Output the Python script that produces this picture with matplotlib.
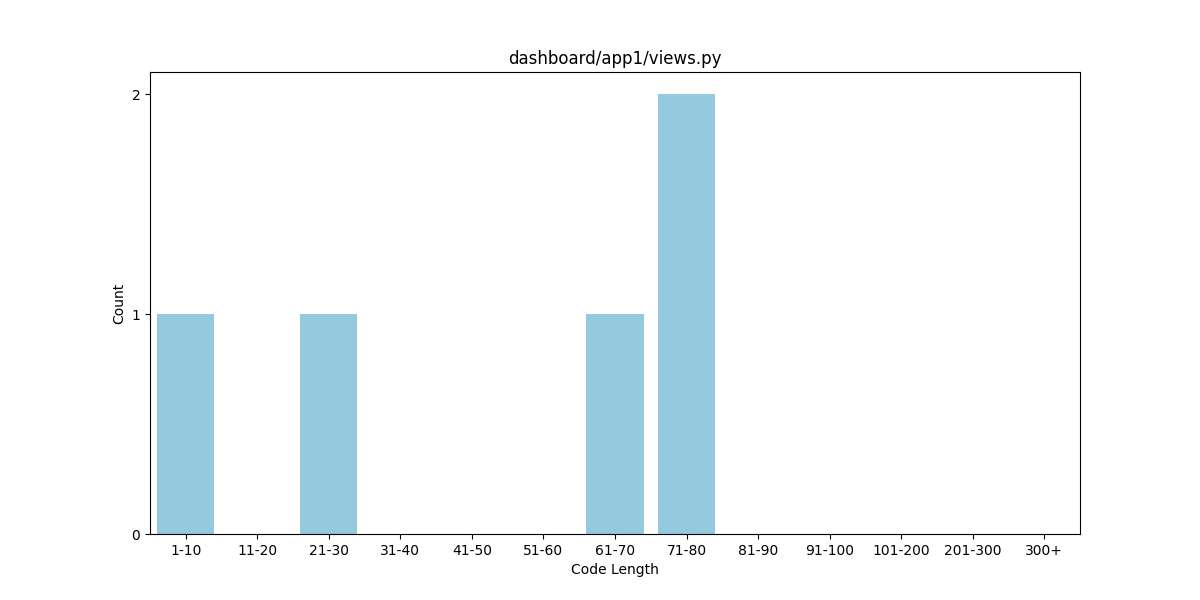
import matplotlib
matplotlib.use("Agg")
import matplotlib.pyplot as plt
import seaborn as sns
from matplotlib.ticker import MaxNLocator

categories = ["1-10", "11-20", "21-30", "31-40", "41-50", "51-60", "61-70",
              "71-80", "81-90", "91-100", "101-200", "201-300", "300+"]
counts = [1, 0, 1, 0, 0, 0, 1, 2, 0, 0, 0, 0, 0]

fig, ax = plt.subplots(figsize=(12, 6), dpi=100)
sns.barplot(x=categories, y=counts, color="skyblue", ax=ax)
ax.set_title("dashboard/app1/views.py")
ax.set_xlabel("Code Length")
ax.set_ylabel("Count")
ax.yaxis.set_major_locator(MaxNLocator(integer=True))
fig.savefig("out.png", dpi=100)
